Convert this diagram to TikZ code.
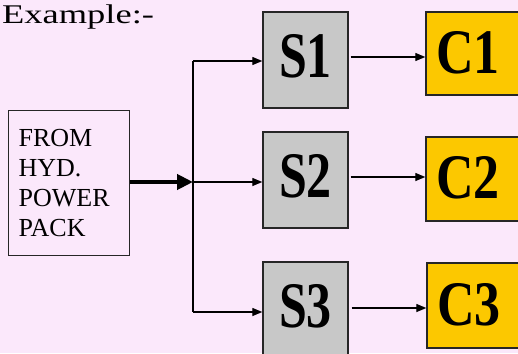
\documentclass[tikz,border=0pt]{standalone}
\usepackage{fontspec}
\setmainfont{Liberation Serif}
\usetikzlibrary{arrows.meta}
\definecolor{bgpink}{RGB}{251,232,251}
\definecolor{sgray}{RGB}{200,200,200}
\definecolor{corange}{RGB}{252,200,0}
\tikzset{
  sbox/.style={draw=black!85, line width=1.4pt, fill=sgray, minimum width=85pt, minimum height=96pt, inner sep=0pt, text height=44pt, text depth=10pt},
  cbox/.style={draw=black!85, line width=1.4pt, fill=corange, inner xsep=0pt, inner ysep=0pt, text width=104pt, align=left, text height=42pt, text depth=3pt},
  srcbox/.style={draw=black!85, line width=1.2pt, minimum width=121pt, minimum height=145pt, inner xsep=10pt, text width=101pt, align=left, font=\fontsize{26}{30}\selectfont},
  thinarr/.style={line width=1.3pt, -{Triangle[length=10pt,width=8pt]}},
  thickarr/.style={line width=4pt, -{Triangle[length=16pt,width=15pt]}},
}
\newcommand{\slab}[1]{\scalebox{1}[1.3]{\fontsize{50}{50}\selectfont\bfseries #1}}
\newcommand{\clab}[1]{\hspace*{10pt}\scalebox{1}[1.22]{\fontsize{52}{52}\selectfont\bfseries #1}}
\begin{document}
\begin{tikzpicture}[x=1pt,y=-1pt]
\fill[bgpink] (0,0) rectangle (518,353);
\useasboundingbox (0,0) rectangle (518,353);
% title
\node[anchor=base west, inner sep=0pt, font=\fontsize{27}{27}\selectfont] (title) at (2,24) {\scalebox{1.35}[1]{Example:-}};
% source box
\node[srcbox, anchor=north west] (src) at (8,110) {FROM\\HYD.\\POWER\\PACK};
% S boxes
\node[sbox] (s1) at (305.5,60) {\slab{S1}};
\node[sbox] (s2) at (305.5,180) {\slab{S2}};
\node[sbox] (s3) at (305.5,310) {\slab{S3}};
% C boxes
\node[cbox, minimum height=83pt] (c1) at (478,53.5) {\clab{C1}};
\node[cbox, minimum height=84pt] (c2) at (478,179) {\clab{C2}};
\node[cbox, minimum height=85pt] (c3) at (479,305.5) {\clab{C3}};
% junction
\coordinate (jt) at (193,61);
\coordinate (jm) at (193,182);
\coordinate (jb) at (193,312);
\draw[line width=1.3pt] (jt) -- (jb);
\draw[thickarr] (src.east |- jm) -- (jm);
\draw[thinarr] (jt) -- (jt -| s1.west);
\draw[thinarr] (jm) -- (jm -| s2.west);
\draw[thinarr] (jb) -- (jb -| s3.west);
% S to C
\coordinate (r1) at (0,57);
\coordinate (r2) at (0,177);
\coordinate (r3) at (0,308);
\draw[thinarr] ([xshift=2pt]s1.east |- r1) -- (c1.west |- r1);
\draw[thinarr] ([xshift=2pt]s2.east |- r2) -- (c2.west |- r2);
\draw[thinarr] ([xshift=3pt]s3.east |- r3) -- (c3.west |- r3);
\end{tikzpicture}
\end{document}
